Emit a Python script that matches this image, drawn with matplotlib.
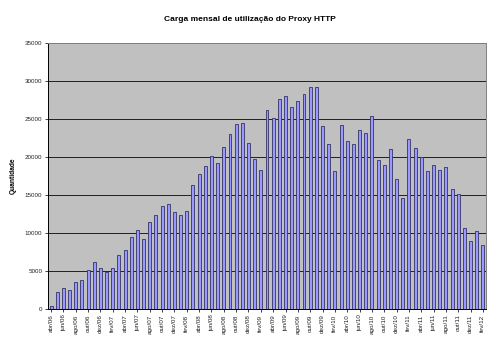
import matplotlib
matplotlib.use("Agg")
import matplotlib.pyplot as plt

plt.rcParams['font.family'] = ['Liberation Sans', 'DejaVu Sans']

# month labels, abr/06 .. fev/12 (one bar per month)
meses = ['jan', 'fev', 'mar', 'abr', 'mai', 'jun', 'jul', 'ago', 'set', 'out', 'nov', 'dez']
periodos = []
for ano in range(2006, 2013):
    for k, m in enumerate(meses):
        if ano == 2006 and k < 3:
            continue
        if ano == 2012 and k > 1:
            continue
        periodos.append(f"{m}/{str(ano)[2:]}")

# monthly load
quantidade = [
    440, 2280, 2810, 2540, 3550, 3770, 5090, 6180, 5350, 4910,
    5350, 7150, 7760, 9470, 10440, 9250, 11450, 12370, 13550, 13860,
    12810, 12370, 12850, 16320, 17720, 18770, 20180, 19250, 21360, 23070,
    24390, 24470, 21840, 19690, 18330, 26180, 25130, 27630, 27980, 26540,
    27410, 28290, 29210, 29250, 24080, 21750, 18110, 24250, 22150, 21750,
    23510, 23110, 25350, 19650, 18900, 21100, 17110, 14650, 22410, 21180,
    19960, 18110, 18900, 18250, 18730, 15750, 15180, 10610, 8990, 10260,
    8420,
]

fig = plt.figure(figsize=(5.0, 3.46), dpi=100)
ax = fig.add_axes([0.096, 0.107, 0.876, 0.769])
ax.set_facecolor('#C0C0C0')

x = list(range(len(quantidade)))
ax.bar(x, quantidade, width=0.48, color='#9999FF', edgecolor='#333366',
       linewidth=0.6, zorder=3)

ax.set_ylim(0, 35000)
ax.set_yticks(range(0, 35001, 5000))
ax.yaxis.grid(True, color='#202020', linewidth=0.7, zorder=1)
ax.set_xlim(-0.5, len(quantidade) - 0.5)
ax.set_xticks(x[::2])
ax.set_xticklabels(periodos[::2], rotation=90)
ax.tick_params(axis='both', labelsize=4.5, length=2.5, width=0.6, pad=1.5,
               colors='#222222')

for s in ['top', 'right']:
    ax.spines[s].set_color('#808080')
for s in ['left', 'bottom']:
    ax.spines[s].set_color('black')
for s in ax.spines.values():
    s.set_linewidth(0.7)

ax.set_ylabel('Quantidade', fontsize=4.8, fontweight='bold', labelpad=6)
fig.suptitle('Carga mensal de utilização do Proxy HTTP', fontsize=6.0,
             fontweight='bold', y=0.955)

fig.savefig('out.png', dpi=100)
